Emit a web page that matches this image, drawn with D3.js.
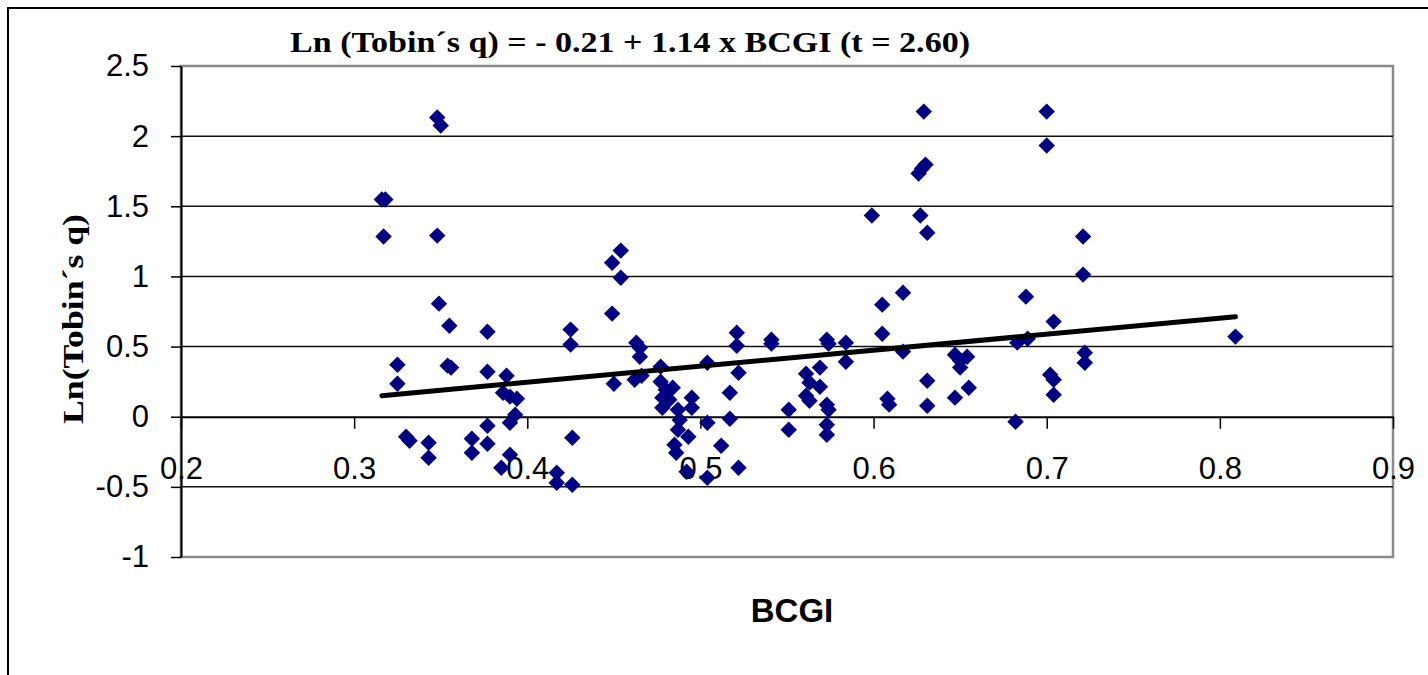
<!DOCTYPE html>
<html>
<head>
<meta charset="utf-8">
<script src="https://cdn.jsdelivr.net/npm/d3@7"></script>
<style>
  body { margin: 0; background: #fff; }
  svg { display: block; }
</style>
</head>
<body>
<div id="viz-container"></div>
<script>
// values
let bcgi = [0.316, 0.318, 0.317, 0.325, 0.325, 0.330, 0.332, 0.343, 0.343, 0.348,
  0.350, 0.348, 0.349, 0.355, 0.354, 0.356, 0.368, 0.368, 0.377, 0.377,
  0.377, 0.377, 0.388, 0.386, 0.390, 0.394, 0.393, 0.390, 0.390, 0.385,
  0.417, 0.417, 0.426, 0.426, 0.425, 0.425, 0.449, 0.454, 0.454, 0.449,
  0.450, 0.463, 0.465, 0.465, 0.462, 0.466, 0.477, 0.477, 0.480, 0.484,
  0.478, 0.482, 0.478, 0.487, 0.488, 0.487, 0.493, 0.485, 0.486, 0.492,
  0.495, 0.495, 0.504, 0.504, 0.504, 0.512, 0.517, 0.517, 0.521, 0.521,
  0.522, 0.522, 0.541, 0.541, 0.551, 0.551, 0.561, 0.563, 0.561, 0.563,
  0.569, 0.569, 0.573, 0.574, 0.573, 0.574, 0.573, 0.573, 0.584, 0.584,
  0.599, 0.605, 0.605, 0.617, 0.617, 0.608, 0.609, 0.629, 0.630, 0.628,
  0.626, 0.627, 0.631, 0.631, 0.631, 0.647, 0.650, 0.654, 0.650, 0.647,
  0.655, 0.682, 0.683, 0.689, 0.688, 0.700, 0.700, 0.704, 0.702, 0.704,
  0.704, 0.721, 0.721, 0.722, 0.722, 0.809];
let lnq = [1.548, 1.548, 1.284, 0.371, 0.235, -0.143, -0.171, -0.185, -0.292, 2.133,
  2.076, 1.291, 0.806, 0.649, 0.364, 0.350, -0.157, -0.257, -0.064, -0.193,
  0.606, 0.321, 0.292, 0.171, 0.143, 0.128, 0.014, -0.043, -0.271, -0.364,
  -0.399, -0.471, -0.485, -0.150, 0.621, 0.514, 1.098, 1.184, 0.991, 0.735,
  0.235, 0.528, 0.492, 0.428, 0.264, 0.292, 0.357, 0.250, 0.193, 0.207,
  0.136, 0.121, 0.064, 0.050, -0.024, -0.093, -0.143, -0.200, -0.257, -0.392,
  0.136, 0.064, 0.385, -0.043, -0.435, -0.207, 0.171, -0.014, 0.599, 0.506,
  0.314, -0.364, 0.549, 0.521, 0.050, -0.093, 0.307, 0.243, 0.150, 0.114,
  0.350, 0.214, 0.549, 0.521, 0.086, 0.050, -0.057, -0.128, 0.528, 0.392,
  1.434, 0.799, 0.592, 0.884, 0.464, 0.128, 0.086, 2.175, 1.797, 1.769,
  1.733, 1.434, 1.312, 0.257, 0.078, 0.442, 0.350, 0.428, 0.399, 0.136,
  0.207, -0.036, 0.528, 0.556, 0.856, 2.175, 1.933, 0.678, 0.300, 0.264,
  0.157, 1.284, 1.013, 0.456, 0.385, 0.571];

// regression from the title
let intercept = -0.21;
let slope = 1.14;

let xTicks = [0.2, 0.3, 0.4, 0.5, 0.6, 0.7, 0.8, 0.9];
let xTickLabels = ["0.2", "0.3", "0.4", "0.5", "0.6", "0.7", "0.8", "0.9"];
let yTicks = [2.5, 2, 1.5, 1, 0.5, 0, -0.5, -1];
let yTickLabels = ["2.5", "2", "1.5", "1", "0.5", "0", "-0.5", "-1"];
let gridValues = [2, 1.5, 1, 0.5, -0.5];

let titleText = "Ln (Tobin\u00b4s q) = - 0.21 + 1.14 x BCGI (t = 2.60)";
let yTitle = "Ln(Tobin\u00b4s q)";
let xTitle = "BCGI";

let points = bcgi.map(function(v, i){ return {x: v, y: lnq[i]}; });

let viz = d3.select("#viz-container")
  .append("svg")
    .attr("width", 1428)
    .attr("height", 675);

viz.append("rect")
  .attr("width", 1428).attr("height", 675)
  .attr("fill", "#fff");

// outer chart frame
viz.append("rect")
  .attr("x", 8).attr("y", 8)
  .attr("width", 1440).attr("height", 700)
  .attr("fill", "none")
  .attr("stroke", "#000")
  .attr("stroke-width", 2);

let x = d3.scaleLinear().domain([0.2, 0.9]).range([181, 1393]);
let y = d3.scaleLinear().domain([-1, 2.5]).range([557, 66]);

// plot area border
viz.append("rect")
  .attr("x", x(0.2)).attr("y", y(2.5))
  .attr("width", x(0.9) - x(0.2))
  .attr("height", y(-1) - y(2.5))
  .attr("fill", "none")
  .attr("stroke", "#8c8c8c")
  .attr("stroke-width", 2.5);

viz.selectAll(".grid").data(gridValues).enter()
  .append("line")
    .attr("class", "grid")
    .attr("x1", x(0.2))
    .attr("x2", x(0.9))
    .attr("y1", function(d){ return y(d); })
    .attr("y2", function(d){ return y(d); })
    .attr("stroke", "#111")
    .attr("stroke-width", 1.5);

let yAxis = d3.axisLeft(y)
  .tickValues(yTicks)
  .tickSize(10)
  .tickSizeOuter(0)
  .tickPadding(22)
  .tickFormat(function(d, i){ return yTickLabels[i]; });

let yg = viz.append("g")
  .attr("transform", "translate(" + x(0.2) + ",0)")
  .call(yAxis);

let xAxis = d3.axisBottom(x)
  .tickValues(xTicks)
  .tickSize(12)
  .tickSizeOuter(0)
  .tickPadding(28)
  .tickFormat(function(d, i){ return xTickLabels[i]; });

let xg = viz.append("g")
  .attr("transform", "translate(0," + y(0) + ")")
  .call(xAxis);

[xg, yg].forEach(function(g){
  g.select(".domain").attr("stroke", "#000").attr("stroke-width", 2);
  g.selectAll(".tick line").attr("stroke", "#000").attr("stroke-width", 1.5);
  g.selectAll(".tick text")
    .attr("font-family", "Liberation Sans, Arial, sans-serif")
    .attr("font-size", 31)
    .attr("fill", "#000");
});

// scatter points (diamonds)
let diamond = d3.symbol().type(d3.symbolSquare).size(135);

viz.selectAll(".pt").data(points).enter()
  .append("path")
    .attr("class", "pt")
    .attr("d", diamond)
    .attr("transform", function(d){
      return "translate(" + x(d.x) + "," + y(d.y) + ") rotate(45)";
    })
    .attr("fill", "#000080");

// trend line over the range of the data
let xmin = d3.min(bcgi), xmax = d3.max(bcgi);
viz.append("line")
  .attr("x1", x(xmin))
  .attr("y1", y(intercept + slope * xmin))
  .attr("x2", x(xmax))
  .attr("y2", y(intercept + slope * xmax))
  .attr("stroke", "#000")
  .attr("stroke-width", 5)
  .attr("stroke-linecap", "round");

viz.append("text")
  .text(titleText)
  .attr("x", 290)
  .attr("y", 52)
  .attr("textLength", 680)
  .attr("lengthAdjust", "spacingAndGlyphs")
  .attr("font-family", "Liberation Serif, Times New Roman, serif")
  .attr("font-weight", "bold")
  .attr("font-size", 30);

viz.append("text")
  .text(yTitle)
  .attr("transform", "translate(83,319) rotate(-90)")
  .attr("text-anchor", "middle")
  .attr("textLength", 210)
  .attr("lengthAdjust", "spacingAndGlyphs")
  .attr("font-family", "Liberation Serif, Times New Roman, serif")
  .attr("font-weight", "bold")
  .attr("font-size", 30);

viz.append("text")
  .text(xTitle)
  .attr("x", 792)
  .attr("y", 622)
  .attr("text-anchor", "middle")
  .attr("font-family", "Liberation Sans, Arial, sans-serif")
  .attr("font-weight", "bold")
  .attr("font-size", 33);
</script>
</body>
</html>
